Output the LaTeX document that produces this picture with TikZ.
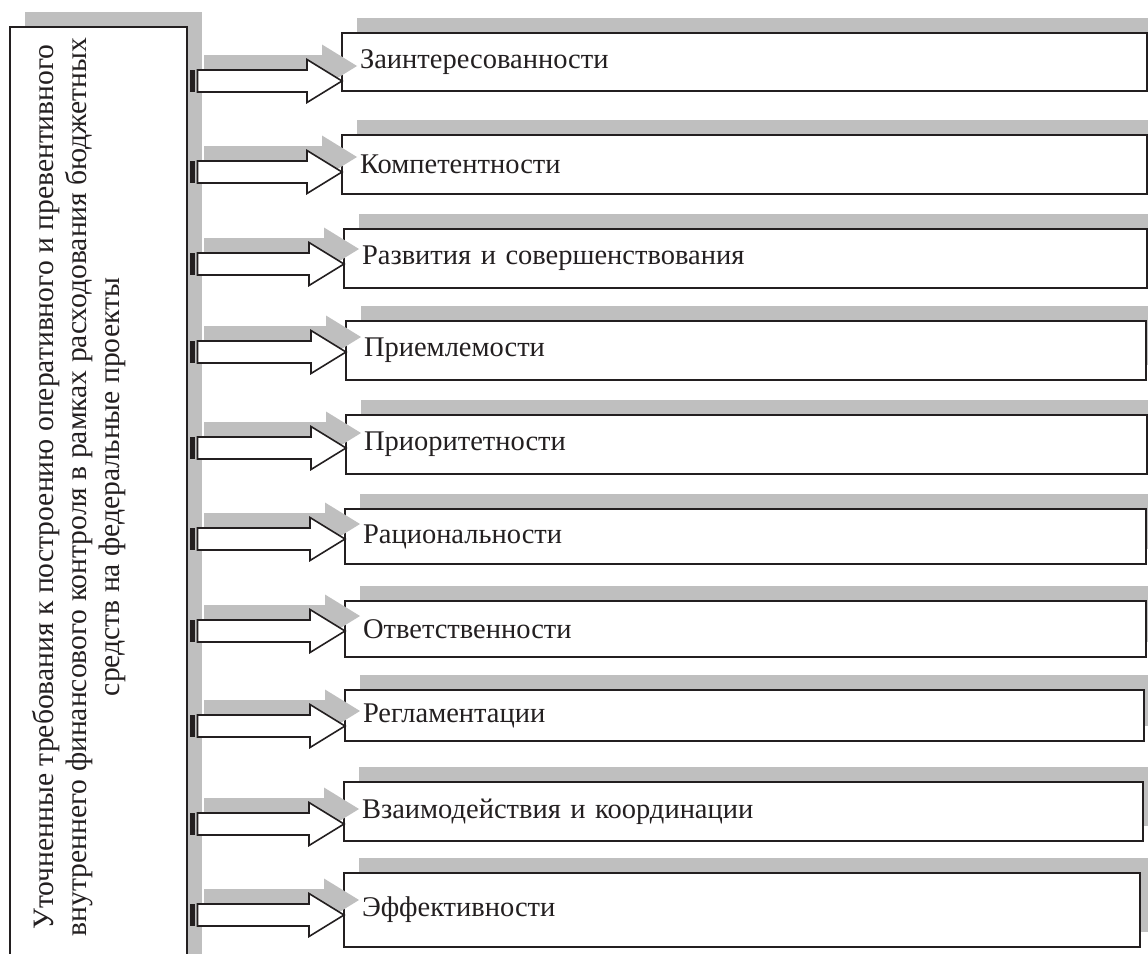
\documentclass[tikz,border=0pt]{standalone}
\usepackage{fontspec}
\setmainfont{Liberation Serif}
\usepackage{tikz}
\usetikzlibrary{calc}
\usetikzlibrary{shadows}

\definecolor{shadegray}{RGB}{191,191,191}
\definecolor{inkgray}{RGB}{35,31,32}

\tikzset{
	boxshadow/.style={drop shadow={shadow xshift=15pt,shadow yshift=15pt,fill=shadegray,opacity=1}},
	mainbox/.style={draw=inkgray,line width=1.8pt,fill=white,outer sep=0pt,inner sep=0pt,anchor=north west,boxshadow},
	itembox/.style={draw=inkgray,line width=1.8pt,fill=white,outer sep=0pt,inner xsep=18pt,inner ysep=0pt,anchor=north west,align=left,boxshadow},
	pics/blockarrow/.style={code={
		\fill[shadegray] (17,26) -- (#1-20,26) -- (#1-20,36.5) -- (#1+15,15) -- (#1-20,-6.5) -- (#1-20,4) -- (17,4) -- cycle;
		\fill[inkgray] (3,-11) rectangle (8,11);
		\draw[inkgray,line width=1.6pt,fill=white] (10.5,11) -- (#1-35,11) -- (#1-35,21.5) -- (#1,0) -- (#1-35,-21.5) -- (#1-35,-11) -- (10.5,-11) -- cycle;
	}}
}

\begin{document}
\begin{tikzpicture}[x=1pt,y=1pt,font=\fontsize{28.5}{33}\selectfont]
		\useasboundingbox (0,0) rectangle (1148,-953);
		\clip (0,0) rectangle (1148,-953);
		% left block
		\node [mainbox,minimum width=177pt,minimum height=960pt] (main) at (10,-27) {};
		\node [rotate=90,align=center,text=inkgray,font=\fontsize{29.6}{33}\selectfont] (maintext) at (79,-487)
			{Уточненные требования к построению оперативного и превентивного\\
			 внутреннего финансового контроля в рамках расходования бюджетных\\
			 средств на федеральные проекты};
		% principles
		\foreach \t/\b/\l/\r/\a/\txt [count=\i] in {
			33/91/342/1147/81/Заинтересованности,
			135/194/342/1147/172/Компетентности,
			229/288/344/1147/264/Развития и совершенствования,
			321/380/346/1146/352/Приемлемости,
			415/474/346/1147/448/Приоритетности,
			509/564/345/1146/539/Рациональности,
			601/657/345/1146/631/Ответственности,
			690/741/345/1144/726/Регламентации,
			782/841/344/1143/824/Взаимодействия и координации,
			873/947/344/1140/915/Эффективности}
		{
			\node [itembox,minimum width={(\r-\l)*1pt},minimum height={(\b-\t)*1pt},
				text width={(\r-\l-36)*1pt},text=inkgray] (b\i) at (\l,-\t) {\txt};
			\pic at (main.east |- 0,-\a) {blockarrow={\l-187}};
		}
	\end{tikzpicture}
\end{document}
